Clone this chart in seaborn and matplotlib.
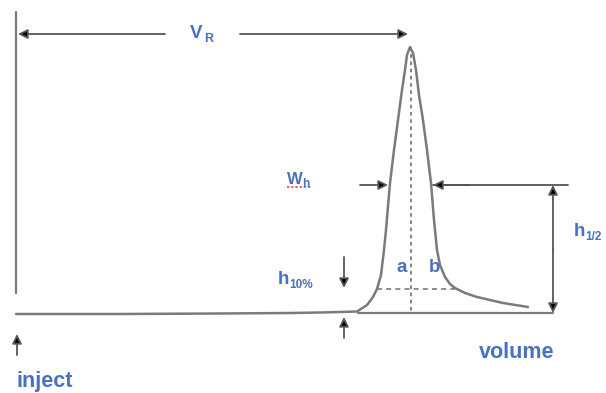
import matplotlib
matplotlib.use("Agg")
import matplotlib.pyplot as plt
import seaborn as sns
import pandas as pd

# ---- data (volume units along x, signal above baseline) ----
baseline_volume = [16, 120, 220, 290, 320, 340, 357, 367, 373, 377, 381, 384, 386]
baseline_signal = [-1, -1, -0.5, 0, 0.5, 1, 1.5, 8, 16, 24, 38, 63, 83]
peak_volume = [390, 394, 398, 402, 405, 407, 410, 413, 416, 419, 423, 427, 431,
               434, 437, 440, 445, 450, 455, 465, 477, 503, 528]
peak_signal = [130, 163, 193, 223, 243, 258, 266, 260, 243, 218, 193, 163, 130,
               93, 63, 48, 36, 29, 25, 20, 16, 10, 6]
apex_volume = 411
apex_signal = 266
h10_signal = 24
h10_left, h10_right = 377, 455
half_signal = 128
half_left, half_right = 388, 433

BASE = 313  # pixel row of the baseline
TEXT = "#4a70c0"
LINE = "#7a7a7a"
ARROW = "#555555"

sns.set_style("white")
plt.rcParams["font.family"] = ["Liberation Sans", "DejaVu Sans"]

fig = plt.figure(figsize=(6.06, 3.93), dpi=100)
ax = fig.add_axes([0, 0, 1, 1])
ax.set_xlim(0, 606)
ax.set_ylim(BASE - 393, BASE)
ax.axis("off")

def Y(p):
    return BASE - p

df = pd.DataFrame({"volume": baseline_volume + peak_volume,
                   "signal": baseline_signal + peak_signal})
sns.lineplot(data=df, x="volume", y="signal", sort=False, color=LINE, lw=1.8, ax=ax)

# left axis line (injection)
ax.plot([16, 16], [Y(12), Y(293)], color=LINE, lw=1.6)
# right baseline segment
ax.plot([358, 553], [0, 0], color=LINE, lw=1.6)
# dotted apex vertical
ax.plot([apex_volume, apex_volume], [apex_signal, 0], color=LINE, lw=1.3, ls=(0, (2, 2)))
# dashed h10% line
ax.plot([h10_left, h10_right], [h10_signal, h10_signal], color=LINE, lw=1.2, ls=(0, (3, 2.5)))
# top line of h1/2
ax.plot([half_right, 568], [Y(185), Y(185)], color=ARROW, lw=1.3)

def arrow(x0, y0, x1, y1, style="-|>"):
    ax.annotate("", xy=(x1, Y(y1)), xytext=(x0, Y(y0)),
                arrowprops=dict(arrowstyle=style, ec=ARROW, fc="black", lw=1.3,
                                mutation_scale=14, shrinkA=0, shrinkB=0))

# V_R arrows
arrow(165, 34, 18, 34)
arrow(240, 34, 408, 34)
# W_h arrows
arrow(360, 185, 388, 185)
arrow(470, 185, 433, 185)
# h1/2 double arrow
arrow(553, 249, 553, 185)
arrow(553, 249, 553, 313)
# h10% arrows
arrow(344, 257, 344, 288)
arrow(344, 338, 344, 317)
# inject arrow
arrow(17, 355, 17, 334)

fs = 13.5
kw = dict(color=TEXT, fontweight="bold")
ax.text(196, Y(34), "V", fontsize=fs, ha="center", va="center", **kw)
ax.text(209, Y(39), "R", fontsize=9, ha="center", va="center", **kw)
ax.text(295, Y(179), "W", fontsize=12, ha="center", va="center", **kw)
ax.text(305.5, Y(184), "h", fontsize=8.5, ha="center", va="center", **kw)
ax.plot([287, 311], [Y(186.5), Y(186.5)], color="#e05050", lw=1.2, ls=(0, (1.5, 1)))
ax.text(283, Y(279), "h", fontsize=fs, ha="center", va="center", **kw)
ax.text(289, Y(285), "10%", fontsize=8.5, ha="left", va="center", **kw)
ax.text(579, Y(231), "h", fontsize=fs, ha="center", va="center", **kw)
ax.text(585, Y(237), "1/2", fontsize=8.5, ha="left", va="center", **kw)
ax.text(402, Y(267), "a", fontsize=fs, ha="center", va="center", **kw)
ax.text(435, Y(267), "b", fontsize=fs, ha="center", va="center", **kw)
ax.text(554, Y(352), "volume", fontsize=15.5, ha="right", va="center", **kw)
ax.text(16, Y(381), "inject", fontsize=15.5, ha="left", va="center", **kw)

fig.savefig("out.png", dpi=100)
